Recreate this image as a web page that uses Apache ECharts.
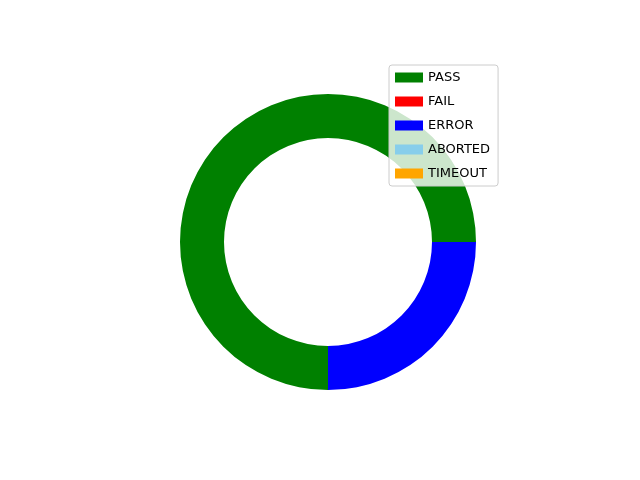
<!DOCTYPE html>
<html>
<head>
<meta charset="utf-8">
<script src="https://cdn.jsdelivr.net/npm/echarts@6/dist/echarts.min.js"></script>
<style>html,body{margin:0;padding:0;background:#fff}#main{width:640px;height:480px}</style>
</head>
<body>
<div id="main"></div>
<script>
var statuses = ['PASS', 'FAIL', 'ERROR', 'ABORTED', 'TIMEOUT'];
var counts = [3, 0, 1, 0, 0];
var colors = ['#008000', '#ff0000', '#0000ff', '#87ceeb', '#ffa500'];

var values = [];
for (var i = 0; i < statuses.length; i++) {
	values.push({value: counts[i], name: statuses[i], itemStyle: {color: colors[i]}});
}

var myChart = echarts.init(document.getElementById('main'));
var option = {
	animation: false,
	legend: {
		orient: 'vertical',
		left: 389,
		top: 65,
		icon: 'rect',
		itemWidth: 28,
		itemHeight: 10,
		itemGap: 11,
		padding: [6, 8, 6, 6],
		backgroundColor: 'rgba(255,255,255,0.8)',
		borderColor: '#cccccc',
		borderWidth: 1,
		borderRadius: 3,
		textStyle: {fontFamily: 'DejaVu Sans', fontSize: 13, color: '#000'},
		data: statuses
	},
	series: [{
		type: 'pie',
		center: [328, 242],
		radius: [104, 148],
		startAngle: 0,
		clockwise: false,
		stillShowZeroSum: true,
		label: {show: false},
		labelLine: {show: false},
		emphasis: {disabled: true},
		data: values
	}]
};
myChart.setOption(option);
</script>
</body>
</html>
